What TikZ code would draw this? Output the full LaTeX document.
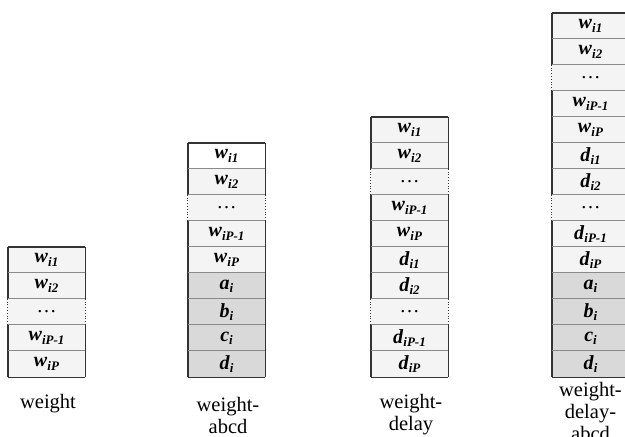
\documentclass[tikz,border=0pt]{standalone}
\usepackage{fontspec}
\setmainfont{Liberation Serif}
\definecolor{celllight}{HTML}{F4F4F4}
\definecolor{cellwhite}{HTML}{FFFFFF}
\definecolor{cellgray}{HTML}{D9D9D9}
\definecolor{framec}{HTML}{333333}
\definecolor{sepc}{HTML}{8A8A8A}
% bold italic symbol with a bold italic subscript
\newcommand\cellv[2]{\textbf{\textit{#1}}\raisebox{-0.35ex}{\fontsize{13}{13}\selectfont\textbf{\textit{#2}}}}
\tikzset{
  cellbox/.style={minimum width=77pt, minimum height=26pt, inner sep=0pt,
    font=\fontsize{20}{20}\selectfont, anchor=center},
  lt/.style={cellbox, fill=celllight},
  wt/.style={cellbox, fill=cellwhite},
  gr/.style={cellbox, fill=cellgray},
  sepline/.style={draw=sepc, line width=0.7pt},
  frameside/.style={draw=framec, line width=1.4pt},
  dotside/.style={draw=framec, line width=0.8pt, dotted},
  caption/.style={font=\fontsize{20.5}{22}\selectfont, align=center, inner sep=0pt}
}
\begin{document}
\begin{tikzpicture}[x=1pt,y=-1pt]
\useasboundingbox (0,0) rectangle (625,437);
\clip (0,0) rectangle (625,437);
% columns: name / centre x / number of cells / cell list (text/fill/side)
\foreach \cname/\cx/\n/\cells in {
  A/46.5/5/{{\cellv{w}{i1}}/lt/frameside,{\cellv{w}{i2}}/lt/frameside,{\ldots}/lt/dotside,{\cellv{w}{iP-1}}/lt/frameside,{\cellv{w}{iP}}/lt/frameside},
  B/226.5/9/{{\cellv{w}{i1}}/wt/frameside,{\cellv{w}{i2}}/lt/frameside,{\ldots}/lt/dotside,{\cellv{w}{iP-1}}/lt/frameside,{\cellv{w}{iP}}/lt/frameside,{\cellv{a}{i}}/gr/frameside,{\cellv{b}{i}}/gr/frameside,{\cellv{c}{i}}/gr/frameside,{\cellv{d}{i}}/gr/frameside},
  C/409.5/10/{{\cellv{w}{i1}}/lt/frameside,{\cellv{w}{i2}}/lt/frameside,{\ldots}/lt/dotside,{\cellv{w}{iP-1}}/lt/frameside,{\cellv{w}{iP}}/lt/frameside,{\cellv{d}{i1}}/lt/frameside,{\cellv{d}{i2}}/lt/frameside,{\ldots}/lt/dotside,{\cellv{d}{iP-1}}/lt/frameside,{\cellv{d}{iP}}/lt/frameside},
  D/590.5/14/{{\cellv{w}{i1}}/lt/frameside,{\cellv{w}{i2}}/lt/frameside,{\ldots}/lt/dotside,{\cellv{w}{iP-1}}/lt/frameside,{\cellv{w}{iP}}/lt/frameside,{\cellv{d}{i1}}/lt/frameside,{\cellv{d}{i2}}/lt/frameside,{\ldots}/lt/dotside,{\cellv{d}{iP-1}}/lt/frameside,{\cellv{d}{iP}}/lt/frameside,{\cellv{a}{i}}/gr/frameside,{\cellv{b}{i}}/gr/frameside,{\cellv{c}{i}}/gr/frameside,{\cellv{d}{i}}/gr/frameside}}{
  \foreach \t/\f/\e [count=\r] in \cells {
    \node[\f] (\cname\r) at (\cx, {377-(\n-\r+0.5)*26}) {\t};
    \draw[sepline] (\cname\r.north west) -- (\cname\r.north east);
    \draw[\e] (\cname\r.north west) -- (\cname\r.south west)
              (\cname\r.north east) -- (\cname\r.south east);
  }
  \draw[frameside] (\cname1.north west) -- (\cname1.north east);
  \draw[frameside] (\cname\n.south west) -- (\cname\n.south east);
}
% captions under the columns
\node[caption] (capA) at (48,404) {weight};
\node[caption] (capB) at (228,415) {weight-\\abcd};
\node[caption] (capC) at (411,415) {weight-\\delay};
\node[caption] (capD) at (590.5,411) {weight-\\delay-\\abcd};
\end{tikzpicture}
\end{document}
